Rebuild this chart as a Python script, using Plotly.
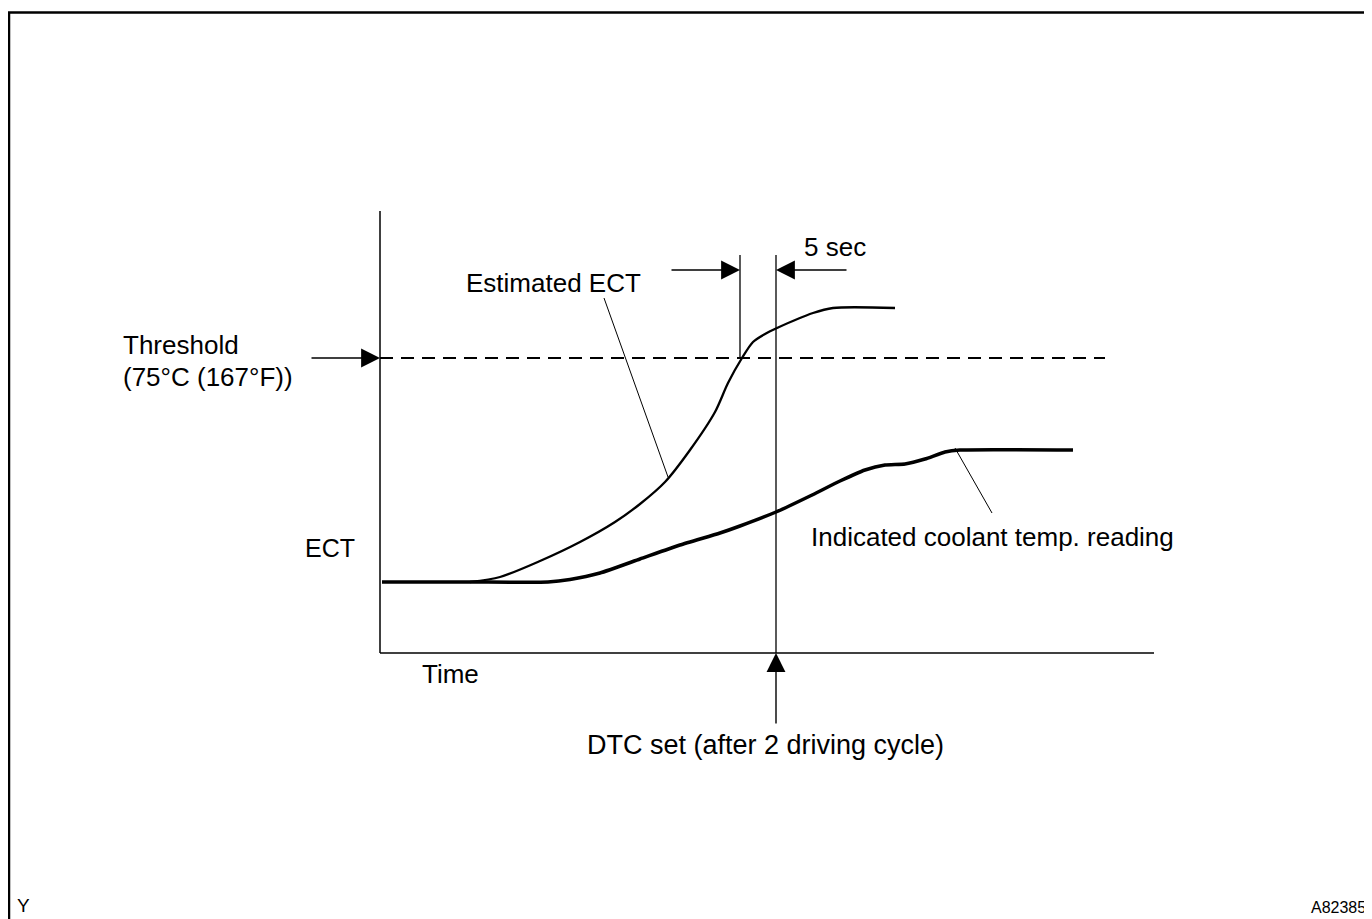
import plotly.graph_objects as go

# ---- data (time units, ECT units) ----
indicated_t = [0.2, 9, 16.8, 19, 22, 26, 30, 34, 36, 39.6, 43, 46, 48.5, 50.5, 52.5, 54.5, 56.5, 58, 69.3]
indicated_v = [7.1, 7.1, 7.1, 7.35, 8.0, 9.4, 10.8, 12.0, 12.7, 14.1, 15.7, 17.2, 18.3, 18.8, 18.9, 19.4, 20.1, 20.3, 20.3]

estimated_t = [9, 12, 16, 20, 23.5, 26, 28.5, 31, 33.5, 34.8, 36.2, 37.3, 38.5, 39.7, 43.3, 45.3, 51.5]
estimated_v = [7.1, 7.6, 9.2, 11.1, 13.1, 14.9, 17.1, 20.3, 24.1, 27.0, 29.5, 31.1, 31.9, 32.5, 34.0, 34.5, 34.5]

threshold_v = 29.5
threshold_end_t = 72.5
x_axis_end = 77.4
y_axis_top = 44.2
crossing_t = 36.0
dtc_t = 39.6

labels = {
    "threshold1": "Threshold",
    "threshold2": "(75\u00b0C (167\u00b0F))",
    "five": "5 sec",
    "est": "Estimated ECT",
    "ind": "Indicated coolant temp. reading",
    "ect": "ECT",
    "time": "Time",
    "dtc": "DTC set (after 2 driving cycle)",
}

FONT = "Liberation Sans, Arial, sans-serif"
FS = 26
fig = go.Figure()

fig.add_trace(go.Scatter(x=indicated_t, y=indicated_v, mode="lines",
                         line=dict(color="black", width=3.5, shape="spline", smoothing=0.5),
                         hoverinfo="skip"))
fig.add_trace(go.Scatter(x=estimated_t, y=estimated_v, mode="lines",
                         line=dict(color="black", width=2.3, shape="spline", smoothing=0.8),
                         hoverinfo="skip"))

shapes = []
# frame
shapes.append(dict(type="path", path="M 200,64.05 L -37.1,64.05 L -37.1,-40",
                   line=dict(color="black", width=2.5)))
# axes
shapes.append(dict(type="line", x0=0, y0=0, x1=x_axis_end, y1=0, line=dict(color="black", width=1.5)))
shapes.append(dict(type="line", x0=0, y0=0, x1=0, y1=y_axis_top, line=dict(color="black", width=1.5)))
# threshold
shapes.append(dict(type="line", x0=0, y0=threshold_v, x1=threshold_end_t, y1=threshold_v,
                   line=dict(color="black", width=2.2, dash="13px,8px")))
# verticals
shapes.append(dict(type="line", x0=crossing_t, y0=threshold_v, x1=crossing_t, y1=39.8,
                   line=dict(color="black", width=1.3)))
shapes.append(dict(type="line", x0=dtc_t, y0=0, x1=dtc_t, y1=39.8,
                   line=dict(color="black", width=1.3)))
# leader lines
shapes.append(dict(type="line", x0=22.4, y0=35.5, x1=28.8, y1=17.6, line=dict(color="black", width=1)))
shapes.append(dict(type="line", x0=57.5, y0=20.5, x1=61.2, y1=14.0, line=dict(color="black", width=1)))

ann = []
def arrow(x, y, ax, ay):
    ann.append(dict(x=x, y=y, ax=ax, ay=ay, xref="x", yref="y", axref="x", ayref="y",
                    text="", showarrow=True, arrowhead=2, arrowsize=2.7, arrowwidth=1.4,
                    arrowcolor="black", standoff=0))

arrow(0, threshold_v, -7.0, threshold_v)
arrow(crossing_t, 38.3, 29.0, 38.3)
arrow(dtc_t, 38.3, 46.8, 38.3)
arrow(dtc_t, 0, dtc_t, -7.2)

def text(t, x, y, size=FS, anchor="left"):
    ann.append(dict(x=x, y=y, xref="x", yref="y", text=t, showarrow=False,
                    xanchor=anchor, yanchor="middle",
                    font=dict(family=FONT, size=size, color="black")))

text(labels["threshold1"], -25.9, 30.8)
text(labels["threshold2"], -25.9, 27.6)
text(labels["five"], 45.5, 40.6, anchor="center")
text(labels["est"], 17.3, 37.0, anchor="center")
text(labels["ind"], 61.2, 11.6, anchor="center")
text(labels["ect"], -5.0, 10.5, size=25, anchor="center")
text(labels["time"], 7.0, -2.1, anchor="center")
text(labels["dtc"], 38.5, -9.2, size=27, anchor="center")
ann.append(dict(x=-36.5, y=-26.5, xref="x", yref="y", text="Y", showarrow=False,
                xanchor="left", yanchor="bottom", font=dict(family=FONT, size=19, color="black")))
ann.append(dict(x=98.8, y=-26.5, xref="x", yref="y", text="A82385", showarrow=False,
                xanchor="right", yanchor="bottom", font=dict(family=FONT, size=16, color="black")))

# page body has an 8px margin: figure starts at page pixel (8, 8)
fig.update_layout(
    width=1364, height=911,
    margin=dict(l=0, r=0, t=0, b=0),
    paper_bgcolor="white", plot_bgcolor="white",
    showlegend=False,
    xaxis=dict(range=[-37.2, 99.2], visible=False, fixedrange=True),
    yaxis=dict(range=[-26.6, 64.5], visible=False, fixedrange=True),
    shapes=shapes, annotations=ann,
)

fig.write_html("out.html")
